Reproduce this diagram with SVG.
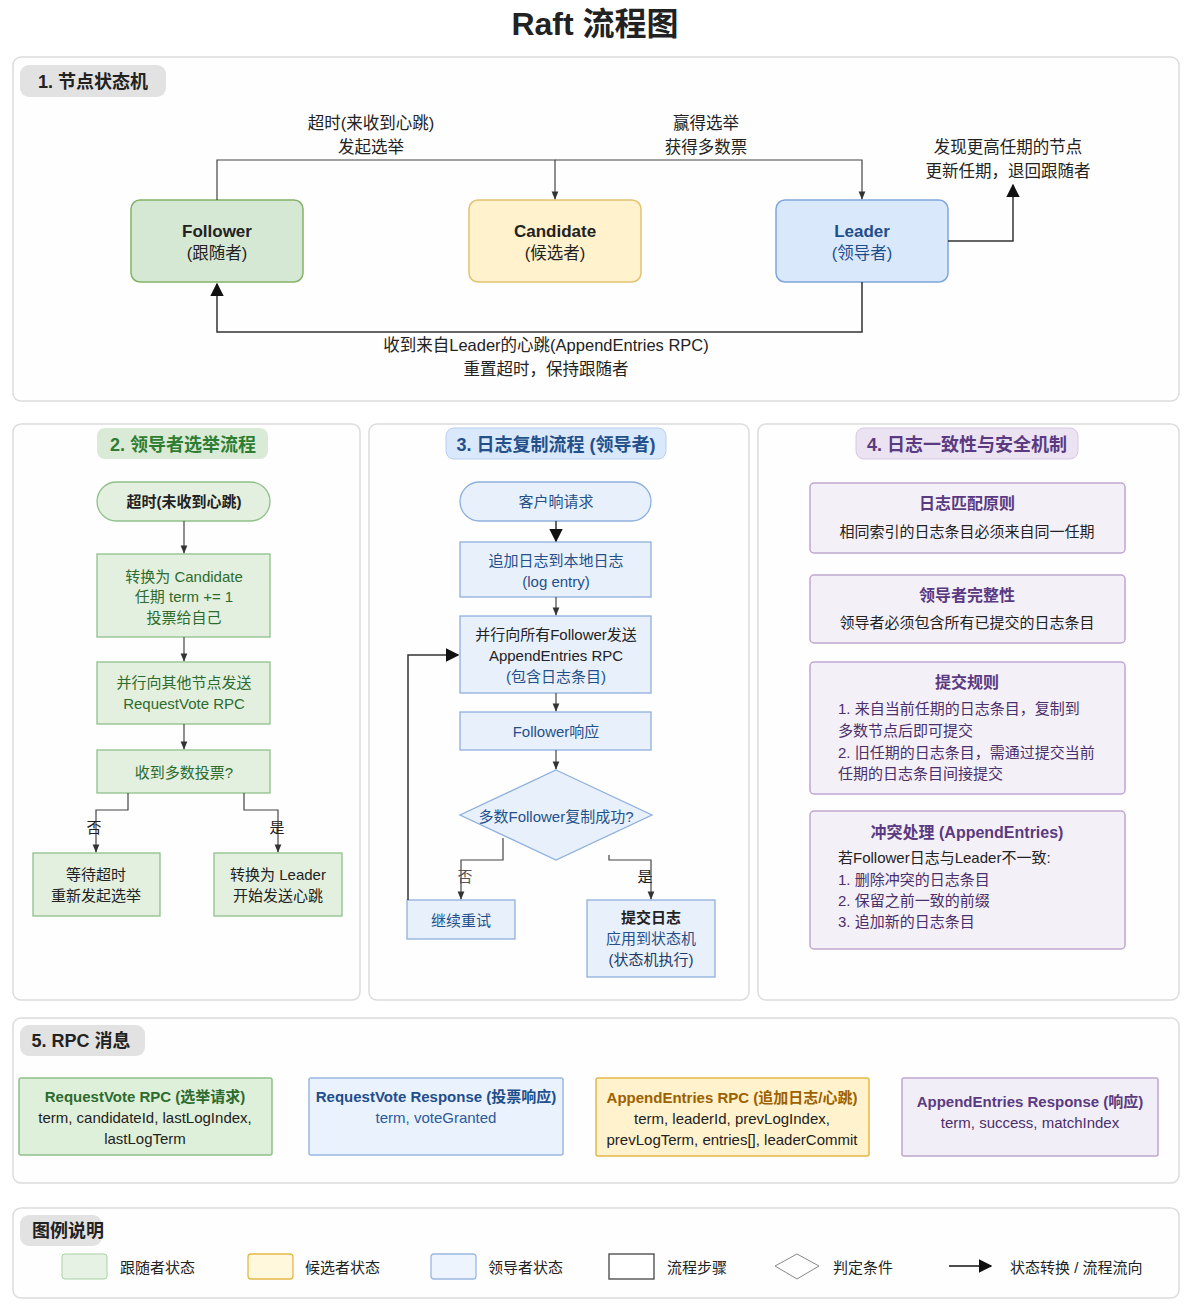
<svg xmlns="http://www.w3.org/2000/svg" width="1199" height="1312" viewBox="0 0 1199 1312">
<defs>
<style>
text{font-family:"Liberation Sans","Noto Sans CJK SC",sans-serif;fill:#222;text-anchor:middle;dominant-baseline:central}
.panel{fill:#fefefe;stroke:#dcdcdc;stroke-width:1.5}
.pill{fill:#e2e2e2}
.h{font-size:18px;font-weight:bold}
.lbl{font-size:16.5px}
.st{font-size:17px;font-weight:bold}
.g{fill:#e3f0df;stroke:#8fc08a;stroke-width:1.3}
.gt{fill:#2e6b2e;font-size:15px}
.b{fill:#e8f0fc;stroke:#8eb0dc;stroke-width:1.3}
.bt{fill:#24508a;font-size:15px}
.p{fill:#f4f0f8;stroke:#bda8d0;stroke-width:1.5}
.pt{fill:#5a3a80;font-size:16px;font-weight:bold}
.pb{fill:#4a2f6a;font-size:15px}
.t15{font-size:15px}
.ln{fill:none;stroke:#333;stroke-width:1.5}
.ln2{fill:none;stroke:#444;stroke-width:1.2}
</style>
<marker id="a" viewBox="0 0 10 10" refX="9" refY="5" markerWidth="7" markerHeight="7" orient="auto-start-reverse"><path d="M0,1 L10,5 L0,9 z" fill="#333"/></marker>
<marker id="a2" viewBox="0 0 10 10" refX="9" refY="5" markerWidth="9" markerHeight="9" orient="auto-start-reverse"><path d="M0,0 L10,5 L0,10 z" fill="#111"/></marker>
</defs>
<rect width="1199" height="1312" fill="#ffffff"/>
<text x="595" y="24" style="font-size:32px;font-weight:bold" fill="#111">Raft 流程图</text>

<!-- panels -->
<g id="panels">
<rect class="panel" x="13" y="57" width="1166" height="344" rx="8"/>
<rect class="pill" x="20" y="65" width="146" height="32" rx="9"/>
<text class="h" x="93" y="82">1. 节点状态机</text>

<rect class="panel" x="13" y="424" width="347" height="576" rx="8"/>
<rect x="97" y="428" width="171" height="31" rx="8" fill="#d9ebd6"/>
<text class="h" x="183" y="445" style="fill:#2e7d32">2. 领导者选举流程</text>

<rect class="panel" x="369" y="424" width="380" height="576" rx="8"/>
<rect x="446" y="428" width="220" height="31" rx="8" fill="#dae8fc" stroke="#b8cff0"/>
<text class="h" x="556" y="445" style="fill:#24508a">3. 日志复制流程 (领导者)</text>

<rect class="panel" x="758" y="424" width="421" height="576" rx="8"/>
<rect x="856" y="428" width="222" height="31" rx="8" fill="#ebe3f1" stroke="#d6c8e2"/>
<text class="h" x="967" y="445" style="fill:#5a3a80">4. 日志一致性与安全机制</text>

<rect class="panel" x="13" y="1018" width="1166" height="165" rx="8"/>
<rect class="pill" x="20" y="1025" width="125" height="31" rx="9"/>
<text class="h" x="81" y="1041">5. RPC 消息</text>

<rect class="panel" x="13" y="1208" width="1166" height="90" rx="8"/>
<rect class="pill" x="20" y="1215" width="82" height="31" rx="9"/>
<text class="h" x="68" y="1231">图例说明</text>
</g>

<!-- section 1 nodes -->
<g id="follower">
<rect x="131" y="200" width="172" height="82" rx="9" fill="#d5e8d4" stroke="#82b366" stroke-width="1.5"/>
<text class="st" x="217" y="231">Follower</text>
<text class="lbl" x="217" y="253">(跟随者)</text>
</g>
<g id="candidate">
<rect x="469" y="200" width="172" height="82" rx="9" fill="#fff2cc" stroke="#e2c272" stroke-width="1.5"/>
<text class="st" x="555" y="231">Candidate</text>
<text class="lbl" x="555" y="253">(候选者)</text>
</g>
<g id="leader">
<rect x="776" y="200" width="172" height="82" rx="9" fill="#dae8fc" stroke="#7ea6dc" stroke-width="1.5"/>
<text class="st" x="862" y="231" style="fill:#1f4e8c">Leader</text>
<text class="lbl" x="862" y="253" style="fill:#1f4e8c">(领导者)</text>
</g>

<!-- section 2 nodes -->
<g id="s2-start"><rect class="g" x="97" y="482" width="173" height="39" rx="19.5"/><text x="184" y="501" style="font-size:15px;font-weight:bold">超时(未收到心跳)</text></g>
<g id="s2-cand"><rect class="g" x="97" y="554" width="173" height="83"/>
<text class="gt" x="184" y="576">转换为 Candidate</text><text class="gt" x="184" y="596">任期 term += 1</text><text class="gt" x="184" y="617">投票给自己</text></g>
<g id="s2-send"><rect class="g" x="97" y="662" width="173" height="62"/>
<text class="gt" x="184" y="682">并行向其他节点发送</text><text class="gt" x="184" y="703">RequestVote RPC</text></g>
<g id="s2-major"><rect class="g" x="97" y="750" width="173" height="43"/><text class="gt" x="184" y="772">收到多数投票?</text></g>
<g id="s2-wait"><rect class="g" x="33" y="853" width="127" height="63"/>
<text class="t15" x="96" y="874">等待超时</text><text class="t15" x="96" y="895">重新发起选举</text></g>
<g id="s2-leader"><rect class="g" x="214" y="853" width="128" height="63"/>
<text class="t15" x="278" y="874">转换为 Leader</text><text class="t15" x="278" y="895">开始发送心跳</text></g>

<!-- section 3 nodes -->
<g id="s3-start"><rect class="b" x="460" y="482" width="191" height="39" rx="19.5"/><text class="bt" x="556" y="501">客户晌请求</text></g>
<g id="s3-append"><rect class="b" x="460" y="542" width="191" height="55"/>
<text class="bt" x="556" y="560">追加日志到本地日志</text><text class="bt" x="556" y="581">(log entry)</text></g>
<g id="s3-send"><rect class="b" x="460" y="616" width="191" height="77"/>
<text class="t15" x="556" y="634">并行向所有Follower发送</text><text class="t15" x="556" y="655">AppendEntries RPC</text><text class="bt" x="556" y="676">(包含日志条目)</text></g>
<g id="s3-resp"><rect class="b" x="460" y="712" width="191" height="38"/><text class="bt" x="556" y="731">Follower响应</text></g>
<g id="s3-dec"><polygon class="b" points="556,770 652,815 556,860 460,815"/><text class="bt" x="556" y="816">多数Follower复制成功?</text></g>
<g id="s3-retry"><rect class="b" x="407" y="900" width="108" height="39"/><text class="bt" x="461" y="920">继续重试</text></g>
<g id="s3-commit"><rect class="b" x="587" y="900" width="128" height="77"/>
<text x="651" y="917" style="font-size:15px;font-weight:bold">提交日志</text><text class="bt" x="651" y="938">应用到状态机</text><text x="651" y="959" style="font-size:15px;fill:#1c3a66">(状态机执行)</text></g>

<!-- section 4 -->
<g id="s4-match"><rect class="p" x="810" y="483" width="315" height="70" rx="4"/>
<text class="pt" x="967" y="503">日志匹配原则</text><text class="t15" x="967" y="531">相同索引的日志条目必须来自同一任期</text></g>
<g id="s4-complete"><rect class="p" x="810" y="575" width="315" height="68" rx="4"/>
<text class="pt" x="967" y="595">领导者完整性</text><text class="t15" x="967" y="622">领导者必须包含所有已提交的日志条目</text></g>
<g id="s4-commit"><rect class="p" x="810" y="662" width="315" height="132" rx="4"/>
<text class="pt" x="967" y="682">提交规则</text>
<text class="pb" x="838" y="708" style="text-anchor:start">1. 来自当前任期的日志条目，复制到</text>
<text class="pb" x="838" y="730" style="text-anchor:start">多数节点后即可提交</text>
<text class="pb" x="838" y="752" style="text-anchor:start">2. 旧任期的日志条目，需通过提交当前</text>
<text class="pb" x="838" y="773" style="text-anchor:start">任期的日志条目间接提交</text>
</g>
<g id="s4-conflict"><rect class="p" x="810" y="811" width="315" height="138" rx="4"/>
<text class="pt" x="967" y="832">冲突处理 (AppendEntries)</text>
<text class="t15" x="838" y="857" style="text-anchor:start">若Follower日志与Leader不一致:</text>
<text class="pb" x="838" y="879" style="text-anchor:start">1. 删除冲突的日志条目</text>
<text class="pb" x="838" y="900" style="text-anchor:start">2. 保留之前一致的前缀</text>
<text class="pb" x="838" y="921" style="text-anchor:start">3. 追加新的日志条目</text></g>

<!-- section 5 -->
<g id="rpc-rv"><rect x="19" y="1078" width="253" height="77" fill="#dff0da" stroke="#8fc08a" stroke-width="1.5" rx="2"/>
<text x="145" y="1096" style="font-size:15px;font-weight:bold;fill:#2e6b2e">RequestVote RPC (选举请求)</text>
<text class="t15" x="145" y="1117">term, candidateId, lastLogIndex,</text>
<text class="t15" x="145" y="1138">lastLogTerm</text></g>
<g id="rpc-rvr"><rect x="309" y="1078" width="254" height="77" fill="#eaf2fd" stroke="#9ab8e0" stroke-width="1.5" rx="2"/>
<text x="436" y="1096" style="font-size:15px;font-weight:bold;fill:#1f4e8c">RequestVote Response (投票响应)</text>
<text x="436" y="1117" style="font-size:15px;fill:#2d5a9a">term, voteGranted</text></g>
<g id="rpc-ae"><rect x="596" y="1078" width="273" height="78" fill="#fff2cc" stroke="#e2b84a" stroke-width="1.5" rx="2"/>
<text x="732" y="1097" style="font-size:15px;font-weight:bold;fill:#9c6100">AppendEntries RPC (追加日志/心跳)</text>
<text class="t15" x="732" y="1118">term, leaderId, prevLogIndex,</text>
<text class="t15" x="732" y="1139">prevLogTerm, entries[], leaderCommit</text></g>
<g id="rpc-aer"><rect x="902" y="1078" width="256" height="78" fill="#f2eef7" stroke="#bda8d0" stroke-width="1.5" rx="2"/>
<text x="1030" y="1101" style="font-size:15px;font-weight:bold;fill:#5a3a80">AppendEntries Response (响应)</text>
<text x="1030" y="1122" style="font-size:15px;fill:#4a2f6a">term, success, matchIndex</text></g>

<!-- legend -->
<g id="legend">
<rect x="62" y="1254" width="45" height="25" rx="3" fill="#e6f2e3" stroke="#a9d2a3"/>
<text class="t15" x="120" y="1267" style="text-anchor:start">跟随者状态</text>
<rect x="248" y="1254" width="45" height="25" rx="3" fill="#fff8dc" stroke="#e2b84a" stroke-width="1.3"/>
<text class="t15" x="305" y="1267" style="text-anchor:start">候选者状态</text>
<rect x="431" y="1254" width="45" height="25" rx="3" fill="#eef4fe" stroke="#9ab8e0" stroke-width="1.3"/>
<text class="t15" x="488" y="1267" style="text-anchor:start">领导者状态</text>
<rect x="609" y="1254" width="45" height="25" fill="#fff" stroke="#444" stroke-width="1.3"/>
<text class="t15" x="667" y="1267" style="text-anchor:start">流程步骤</text>
<polygon points="797,1254 819,1266 797,1279 775,1266" fill="#fff" stroke="#888"/>
<text class="t15" x="833" y="1267" style="text-anchor:start">判定条件</text>
<line x1="949" y1="1266" x2="991" y2="1266" stroke="#111" stroke-width="1.5" marker-end="url(#a2)"/>
<text class="t15" x="1010" y="1267" style="text-anchor:start">状态转换 / 流程流向</text>
</g>

<!-- connectors -->
<g id="connectors">
<path class="ln2" d="M217,200 V160 H555 V199" marker-end="url(#a)"/>
<path class="ln2" d="M555,160 H862 V199" marker-end="url(#a)"/>
<path class="ln" d="M862,282 V332 H217 V284" marker-end="url(#a2)"/>
<path class="ln" d="M948,241 H1013 V185" marker-end="url(#a2)"/>
<text class="lbl" x="371" y="123">超时(来收到心跳)</text>
<text class="lbl" x="371" y="147">发起选举</text>
<text class="lbl" x="706" y="123">赢得选举</text>
<text class="lbl" x="706" y="147">获得多数票</text>
<text class="lbl" x="546" y="345">收到来自Leader的心跳(AppendEntries RPC)</text>
<text class="lbl" x="546" y="369">重置超时，保持跟随者</text>
<text class="lbl" x="1008" y="147">发现更高任期的节点</text>
<text class="lbl" x="1008" y="171">更新任期，退回跟随者</text>

<path class="ln2" d="M184,521 V553" marker-end="url(#a)"/>
<path class="ln2" d="M184,637 V661" marker-end="url(#a)"/>
<path class="ln2" d="M184,724 V749" marker-end="url(#a)"/>
<path class="ln2" d="M128,793 V810 H96 V852" marker-end="url(#a)"/>
<path class="ln2" d="M244,793 V810 H278 V852" marker-end="url(#a)"/>
<text class="t15" x="94" y="827">否</text>
<text class="t15" x="277" y="827">是</text>

<path class="ln" d="M556,521 V541" marker-end="url(#a2)"/>
<path class="ln2" d="M556,597 V615" marker-end="url(#a)"/>
<path class="ln2" d="M556,693 V711" marker-end="url(#a)"/>
<path class="ln2" d="M556,750 V769" marker-end="url(#a)"/>
<path class="ln2" d="M503,838 V860 H461 V899" marker-end="url(#a)"/>
<path class="ln2" d="M609,855 V860 H651 V899" marker-end="url(#a)"/>
<text x="465" y="876" style="font-size:15px;fill:#555">否</text>
<text class="t15" x="645" y="876">是</text>
<path class="ln" d="M408,900 V655 H458" marker-end="url(#a2)"/>
</g>
</svg>
